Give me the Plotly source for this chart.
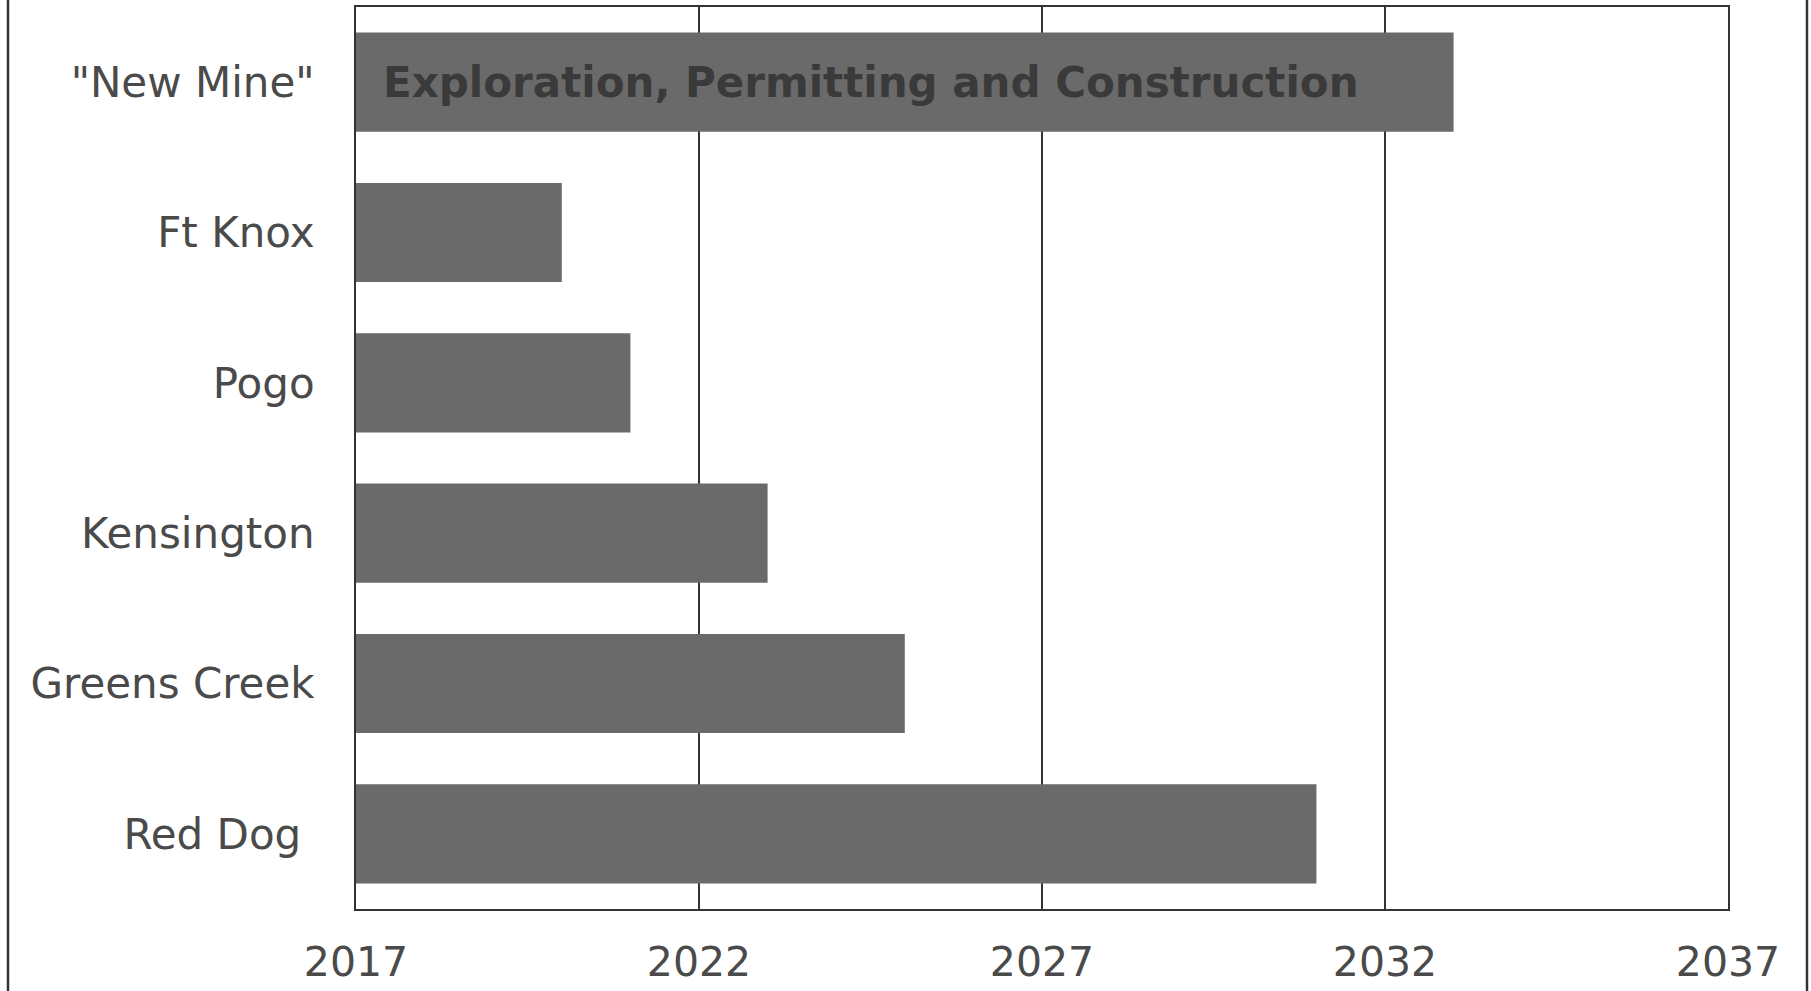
import plotly.graph_objects as go

mines = ['"New Mine"', "Ft Knox", "Pogo", "Kensington", "Greens Creek", "Red Dog"]
mine_labels = ['"New Mine"', "Ft Knox", "Pogo", "Kensington", "Greens Creek", "Red Dog\u00a0"]
start_year = [2017, 2017, 2017, 2017, 2017, 2017]
end_year = [2033, 2020, 2021, 2023, 2025, 2031]
bar_note = "Exploration, Permitting and Construction"
x_ticks = [2017, 2022, 2027, 2032, 2037]

durations = [e - s for s, e in zip(start_year, end_year)]

W, H = 1811, 991
L, R, T, B = 356, 83, 7, 82

fig = go.Figure()
fig.add_trace(go.Bar(
    y=mines,
    x=durations,
    base=start_year,
    orientation="h",
    marker=dict(color="#6a6a6a", line=dict(width=0)),
    width=0.66,
    hoverinfo="skip",
    showlegend=False,
))

fig.add_annotation(
    x=start_year[0], y=mines[0], xref="x", yref="y",
    text="<b>" + bar_note + "</b>",
    showarrow=False, xanchor="left", yanchor="middle", xshift=25,
    font=dict(family="DejaVu Sans", size=42, color="#3a3a3a"),
)

plot_w = W - L - R
for px in (8, 1807):
    fig.add_shape(type="line", xref="paper", yref="paper",
                  x0=(px - L) / plot_w, x1=(px - L) / plot_w, y0=-1, y1=2,
                  line=dict(color="#333333", width=2.5), layer="above")

fig.update_layout(
    width=W, height=H,
    margin=dict(l=L, r=R, t=T, b=B, pad=0, autoexpand=False),
    paper_bgcolor="white", plot_bgcolor="white",
    font=dict(family="DejaVu Sans", size=42, color="#4a4a4a"),
    bargap=0.34,
)
fig.update_xaxes(
    range=[x_ticks[0], x_ticks[-1]], tickvals=x_ticks, ticktext=[str(v) for v in x_ticks],
    showgrid=True, gridcolor="#333333", gridwidth=1.5,
    showline=True, mirror=True, linecolor="#333333", linewidth=2,
    ticks="outside", ticklen=16, tickcolor="rgba(0,0,0,0)",
    tickfont=dict(family="DejaVu Sans", size=41, color="#4a4a4a"),
    zeroline=False, fixedrange=True, automargin=False,
)
fig.update_yaxes(
    categoryorder="array", categoryarray=mines,
    tickvals=mines, ticktext=mine_labels,
    range=[len(mines) - 0.5, -0.5],
    showgrid=False,
    showline=True, mirror=True, linecolor="#333333", linewidth=2,
    ticks="outside", ticklen=31, tickcolor="rgba(0,0,0,0)",
    tickfont=dict(family="DejaVu Sans", size=42, color="#4a4a4a"),
    zeroline=False, fixedrange=True, automargin=False,
)

fig.write_html(
    "out.html",
    config={"displayModeBar": False},
    post_script="document.body.style.margin='0';document.body.style.overflow='hidden';",
)
